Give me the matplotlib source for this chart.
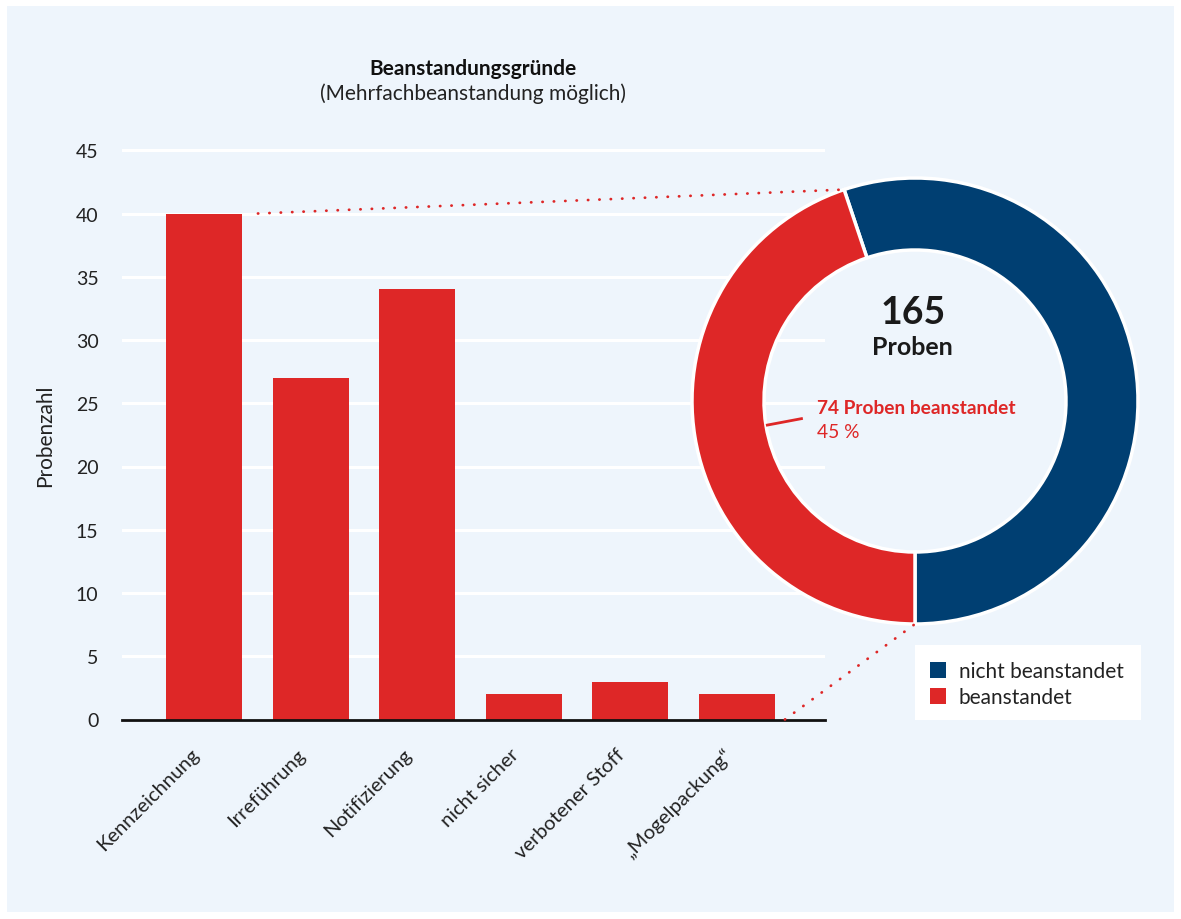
import matplotlib
matplotlib.use('Agg')
import matplotlib.pyplot as plt
import matplotlib.transforms as mtransforms
from matplotlib.patches import Rectangle, Patch, ConnectionPatch
import numpy as np

# ---------------- data ----------------
categories = ["Kennzeichnung", "Irreführung", "Notifizierung", "nicht sicher",
              "verbotener Stoff", "\u201eMogelpackung\u201c"]
counts = [40, 27, 34, 2, 3, 2]
yticks = [0, 5, 10, 15, 20, 25, 30, 35, 40, 45]
pie_labels = ["nicht beanstandet", "beanstandet"]
pie_values = [91, 74]
total = 165
title = "Beanstandungsgründe"
subtitle = "(Mehrfachbeanstandung möglich)"
ylabel = "Probenzahl"

# ---------------- style ----------------
RED = '#de2727'
BLUE = '#003f72'
BG = '#eef5fc'
TXT = '#222222'
FONT = ['Lato', 'DejaVu Sans']
plt.rcParams['font.family'] = FONT

W, H = 1181, 920
fig = plt.figure(figsize=(W / 100, H / 100), dpi=100)
fig.patch.set_facecolor('white')


def fx(px):
    return px / W


def fy(py):
    return 1 - py / H


fig.add_artist(Rectangle((fx(7), fy(913)), fx(1174) - fx(7), fy(7) - fy(913),
                         transform=fig.transFigure, facecolor=BG,
                         edgecolor='none', zorder=0))

# ---------------- bar chart ----------------
px_per_unit_y = 12.65
ytop = 46
ax = fig.add_axes([fx(122), fy(720.5), fx(825) - fx(122),
                   ytop * px_per_unit_y / H])
ax.set_facecolor('none')
x = np.arange(len(categories))
bar_w = 0.713
ax.bar(x, counts, width=bar_w, color=RED, zorder=2)
ax.set_xlim(-0.769, 5.826)
ax.set_ylim(0, ytop)
ax.set_yticks(yticks)
ax.yaxis.grid(True, color='white', linewidth=2.2)
ax.set_axisbelow(True)
for s in ['top', 'right', 'left']:
    ax.spines[s].set_visible(False)
ax.spines['bottom'].set_color('#111111')
ax.spines['bottom'].set_linewidth(2)
ax.spines['bottom'].set_zorder(3)
ax.tick_params(axis='y', length=0, pad=17, labelsize=14, colors=TXT)
ax.set_xticks(x)
ax.set_xticklabels(categories, rotation=45, ha='right', va='top',
                   rotation_mode='anchor', fontsize=14.5, color=TXT)
ax.tick_params(axis='x', length=0, pad=12)
shift = mtransforms.ScaledTranslation(-0.14, -0.09, fig.dpi_scale_trans)
for lab in ax.get_xticklabels():
    lab.set_transform(lab.get_transform() + shift)

fig.text(fx(473), fy(69), title, ha='center', va='center', fontsize=15,
         fontweight='bold', color='#111111')
fig.text(fx(473), fy(94), subtitle, ha='center', va='center', fontsize=15,
         color=TXT)
fig.text(fx(45), fy(436), ylabel, rotation=90, ha='center', va='center',
         fontsize=15, color=TXT)

# ---------------- donut ----------------
cx, cy, R = 915, 402, 223
L = 1.06
pax = fig.add_axes([fx(cx - R * L), fy(cy + R * L), 2 * R * L / W,
                    2 * R * L / H])
pax.set_facecolor('none')
start = -90 + 360 * pie_values[0] / sum(pie_values)
ring_w = 1 - 151 / 223
wedges, _ = pax.pie(pie_values, colors=[BLUE, RED], startangle=start,
                    counterclock=False, radius=1,
                    wedgeprops=dict(width=ring_w, edgecolor='white',
                                    linewidth=2.5))
pax.set_xlim(-L, L)
pax.set_ylim(-L, L)
pax.set_aspect('equal')
pax.axis('off')

pax.text(-0.01, 0.40, str(total), ha='center', va='center', fontsize=27,
         fontweight='bold', color='#1a1a1a')
pax.text(-0.01, 0.245, "Proben", ha='center', va='center', fontsize=18,
         fontweight='bold', color='#1a1a1a')
pax.text(-0.44, -0.031, f"{pie_values[1]} Proben beanstandet", ha='left',
         va='center', fontsize=13.8, fontweight='bold', color=RED)
pax.text(-0.44, -0.139, f"{round(100 * pie_values[1] / total)} %", ha='left',
         va='center', fontsize=13.8, color=RED)

w = wedges[1]
mid = np.deg2rad((w.theta1 + w.theta2) / 2)
r_in = 1 - ring_w
pax.plot([r_in * np.cos(mid), -0.503], [r_in * np.sin(mid), -0.078],
         color=RED, lw=2, solid_capstyle='butt')

# ---------------- connectors ----------------
dot = (0, (0.1, 4.0))
a0 = np.deg2rad(start)
con1 = ConnectionPatch(xyA=(x[0] + bar_w / 2 + 0.15, counts[0]),
                       coordsA=ax.transData,
                       xyB=(np.cos(a0), np.sin(a0)), coordsB=pax.transData,
                       color=RED, lw=2, linestyle=dot, capstyle='round')
fig.add_artist(con1)
con2 = ConnectionPatch(xyA=(x[-1] + 0.45, 0), coordsA=ax.transData,
                       xyB=(0, -1), coordsB=pax.transData,
                       color=RED, lw=2, linestyle=dot, capstyle='round')
fig.add_artist(con2)

# ---------------- legend ----------------
fig.add_artist(Rectangle((fx(915), fy(721)), fx(1141) - fx(915),
                         fy(646) - fy(721), transform=fig.transFigure,
                         facecolor='white', edgecolor='none', zorder=1))
handles = [Patch(facecolor=BLUE), Patch(facecolor=RED)]
leg = fig.legend(handles, pie_labels, loc='upper left',
                 bbox_to_anchor=(fx(930), fy(662)), frameon=False,
                 borderpad=0, borderaxespad=0, fontsize=15,
                 handlelength=0.77, handleheight=0.77, handletextpad=0.62,
                 labelspacing=0.3)
for t in leg.get_texts():
    t.set_color(TXT)
leg.set_zorder(2)

fig.savefig('out.png', dpi=100, facecolor='white')
